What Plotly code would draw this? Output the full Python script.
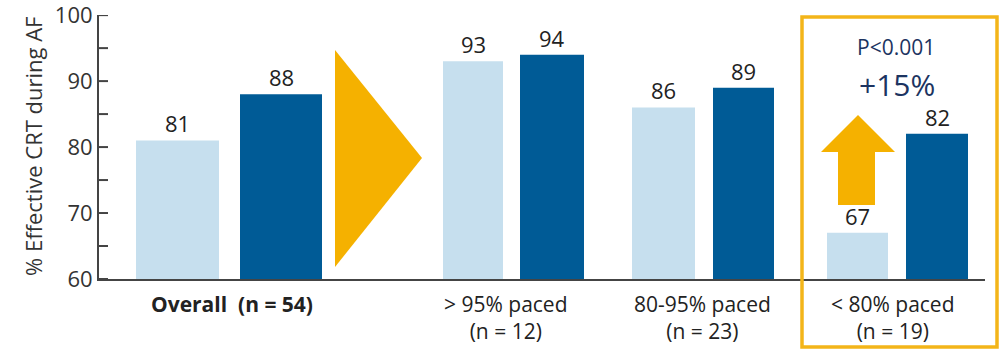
import plotly.graph_objects as go

# ---- data ----
categories = ["<b>Overall  (n = 54)</b>", "> 95% paced<br>(n = 12)", "80-95% paced<br>(n = 23)", "< 80% paced<br>(n = 19)"]
before_vals = [81, 93, 86, 67]
after_vals = [88, 94, 89, 82]
y_ticks = [60, 70, 80, 90, 100]
y_minor_ticks = [65, 75, 85, 95]
y_title = "% Effective CRT during AF"
p_text = "P<0.001"
delta_text = "+15%"

# ---- layout (pixel-like x units) ----
before_pos = [177.5, 473, 663.5, 857.5]
before_w = [83, 60, 63, 61]
after_pos = [281, 552, 743.5, 937]
after_w = [82, 64, 61, 62]
label_pos = [232, 506, 702, 893]

LIGHT = "#c6dfee"
DARK = "#005b96"
GOLD = "#f5b100"
NAVY = "#1c3461"
AXIS = "#444"
FONT = "Open Sans"
PLOT_W = 886

fig = go.Figure()
fig.add_trace(go.Bar(x=before_pos, y=before_vals, width=before_w, marker=dict(color=LIGHT, line_width=0)))
fig.add_trace(go.Bar(x=after_pos, y=after_vals, width=after_w, marker=dict(color=DARK, line_width=0)))

ann = []
for xs, vals in ((before_pos, before_vals), (after_pos, after_vals)):
    for x, v in zip(xs, vals):
        ann.append(dict(x=x, y=v, xref="x", yref="y", text=str(v), showarrow=False,
                        yanchor="bottom", yshift=0, font=dict(family=FONT, size=22, color="#222")))
for x, t in zip(label_pos, categories):
    ann.append(dict(x=x, y=0, xref="x", yref="paper", text=t, showarrow=False,
                    yanchor="top", yshift=-9, align="center",
                    font=dict(family=FONT, size=21, color="#222")))
ann.append(dict(x=896, y=95.15, xref="x", yref="y", text=p_text, showarrow=False,
                font=dict(family=FONT, size=21, color=NAVY)))
ann.append(dict(x=897, y=89.55, xref="x", yref="y", text=delta_text, showarrow=False,
                font=dict(family=FONT, size=30, color=NAVY)))
ann.append(dict(x=-66 / PLOT_W, y=0.5, xref="paper", yref="paper", text=y_title,
                textangle=-90, showarrow=False, xanchor="center", yanchor="middle",
                font=dict(family=FONT, size=22, color="#333")))

shapes = [
    # big right-pointing triangle
    dict(type="path", xref="x", yref="y", path="M 335 94.70 L 422 78.33 L 335 61.82 Z",
         fillcolor=GOLD, line_width=0),
    # up arrow
    dict(type="path", xref="x", yref="y",
         path="M 838 71.21 L 838 79.24 L 821 79.24 L 858 84.85 L 895 79.24 L 875 79.24 L 875 71.21 Z",
         fillcolor=GOLD, line_width=0),
    # highlight box
    dict(type="rect", xref="paper", yref="paper", x0=(802 - 99) / PLOT_W, x1=(997 - 99) / PLOT_W,
         y0=(279 - 347) / 264, y1=(279 - 17) / 264, line=dict(color="#f3b519", width=3.5),
         fillcolor="rgba(0,0,0,0)"),
]
# inward tick marks on the y axis (major and minor)
for v in y_ticks + y_minor_ticks:
    shapes.append(dict(type="line", xref="paper", yref="y", x0=0, x1=9 / PLOT_W, y0=v, y1=v,
                       line=dict(color=AXIS, width=2)))

fig.update_layout(
    width=1000, height=350,
    margin=dict(l=99, r=15, t=15, b=71),
    plot_bgcolor="white", paper_bgcolor="white",
    showlegend=False, barmode="overlay",
    annotations=ann, shapes=shapes,
    xaxis=dict(range=[99, 985], automargin=False, showgrid=False, zeroline=False, showticklabels=False,
               showline=True, linecolor=AXIS, linewidth=2, ticks=""),
    yaxis=dict(range=[60, 100.02], automargin=False, tickmode="array", tickvals=y_ticks,
               ticklabeloverflow="allow", showgrid=False, zeroline=False, showline=True,
               linecolor=AXIS, linewidth=2, ticks="",
               tickfont=dict(family=FONT, size=22, color="#333")),
)

fig.write_html("out.html")
